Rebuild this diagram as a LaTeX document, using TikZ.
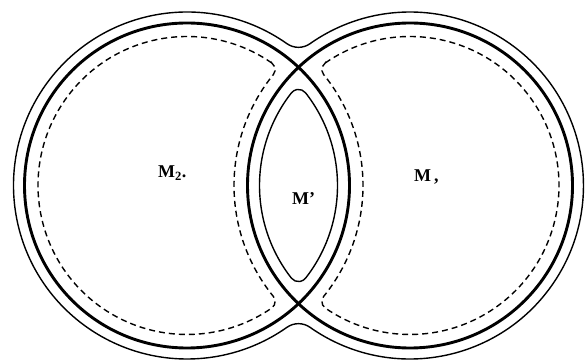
\documentclass[tikz,border=0pt]{standalone}
\usepackage{fontspec}
\newfontfamily\labelfont{Liberation Serif}
\begin{document}
\begin{tikzpicture}[x=1pt,y=1pt,
    wall/.style={line width=2.9pt},
    rim/.style={line width=1.4pt},
    seam/.style={line width=1.4pt,dash pattern=on 6pt off 4pt},
    regionname/.style={font=\labelfont\fontsize{18}{21}\selectfont\bfseries,inner sep=0pt,anchor=base west}]
    \useasboundingbox (0,0) rectangle (586,361);
    \coordinate (A) at (187,175.5);
    \coordinate (B) at (410,175.5);
    % the two walls
    \foreach \c in {A,B}{
        \draw[wall] (\c) circle[radius=162.5];
    }
    % outer rim round both
    \draw[rim] ([shift={(A)}]54.82:173.5) arc[start angle=54.82,end angle=305.18,radius=173.5]
        arc[start angle=125.18,end angle=54.82,radius=20]
        arc[start angle=234.82,end angle=485.18,radius=173.5]
        arc[start angle=305.18,end angle=234.82,radius=20] -- cycle;
    % dashed inner lines
    \draw[seam] ([shift={(A)}]55.35:149) arc[start angle=55.35,end angle=304.65,radius=149]
        arc[start angle=-55.35,end angle=39.08,radius=8]
        arc[start angle=219.08,end angle=140.92,radius=176]
        arc[start angle=-39.08,end angle=55.35,radius=8] -- cycle;
    \draw[seam] ([shift={(B)}]124.65:149) arc[start angle=124.65,end angle=-124.65,radius=149]
        arc[start angle=235.35,end angle=140.92,radius=8]
        arc[start angle=-39.08,end angle=39.08,radius=176]
        arc[start angle=219.08,end angle=124.65,radius=8] -- cycle;
    % lens
    \draw[rim] ([shift={(A)}]-38:150.5) arc[start angle=-38,end angle=38,radius=150.5]
        arc[start angle=38,end angle=142,radius=9]
        arc[start angle=142,end angle=218,radius=150.5]
        arc[start angle=218,end angle=322,radius=9] -- cycle;
    \node[regionname] (m2) at (158,183) {M\textsubscript{2}.};
    \node[regionname] (mp) at (292,156) {M’};
    \node[regionname] (m1) at (414,179) {M\,,};
\end{tikzpicture}
\end{document}
